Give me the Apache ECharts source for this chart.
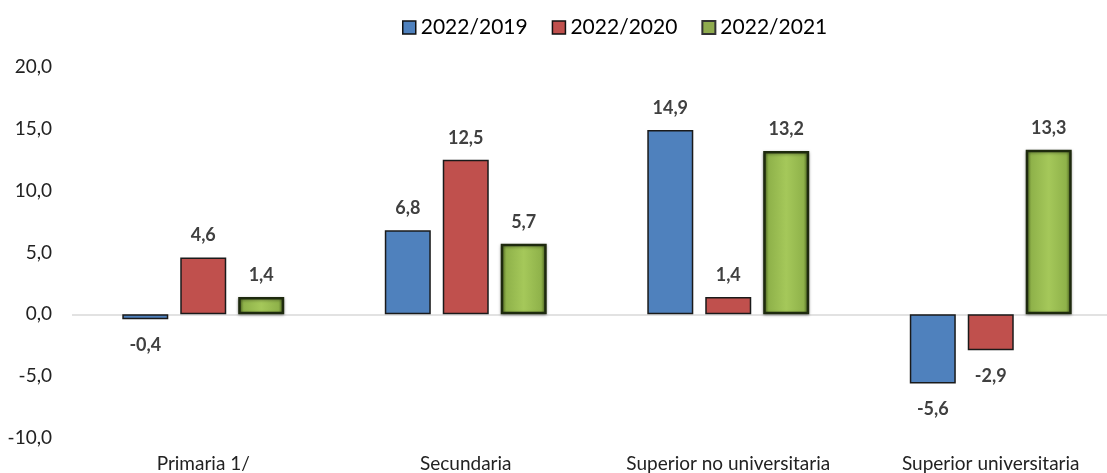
<!DOCTYPE html>
<html><head><meta charset="utf-8">
<script src="https://cdn.jsdelivr.net/npm/echarts@6/dist/echarts.min.js"></script>
<style>html,body{margin:0;padding:0;background:#fff;overflow:hidden;width:1107px;height:473px}#c{width:1122px;height:473px}</style>
</head><body><div id="c"></div>
<script>
const categories = ['Primaria 1/', 'Secundaria', 'Superior no universitaria', 'Superior universitaria'];
const seriesNames = ['2022/2019', '2022/2020', '2022/2021'];
const v2019 = [-0.4, 6.8, 14.9, -5.6];
const v2020 = [4.6, 12.5, 1.4, -2.9];
const v2021 = [1.4, 5.7, 13.2, 13.3];

const FONT = 'Lato';
const fmt = v => Number(v).toFixed(1).replace('.', ',');
const greenGrad = new echarts.graphic.LinearGradient(0, 0, 1, 0, [
  {offset: 0, color: '#4f6a1f'}, {offset: 0.12, color: '#8fb24a'},
  {offset: 0.5, color: '#a5c85a'}, {offset: 0.88, color: '#8fb24a'}, {offset: 1, color: '#4f6a1f'}
]);
function mk(name, vals, color, extra) {
  return Object.assign({
    name, type: 'bar', barWidth: 46, barGap: '26%',
    itemStyle: {color, borderColor: '#1a1a1a', borderWidth: 1.5},
    data: vals.map(v => ({value: v, label: v < 0 ? {position: 'bottom', distance: 17} : {position: 'top', distance: 13}})),
    label: {show: true, formatter: p => fmt(p.value), color: '#404040',
      fontFamily: FONT, fontWeight: 'bold', fontSize: 18}
  }, extra || {});
}
const chart = echarts.init(document.getElementById('c'));
chart.setOption({
  animation: false,
  textStyle: {fontFamily: FONT},
  legend: {
    top: 12, left: 397, itemWidth: 13, itemHeight: 13, itemGap: 24, itemTextGap: 6,
    textStyle: {fontFamily: FONT, fontSize: 21, color: '#000'},
    data: [
      {name: seriesNames[0], icon: 'rect', itemStyle: {color: '#4f81bd', borderColor: '#111', borderWidth: 1.5}},
      {name: seriesNames[1], icon: 'rect', itemStyle: {color: '#c0504d', borderColor: '#111', borderWidth: 1.5}},
      {name: seriesNames[2], icon: 'rect', itemStyle: {color: '#8fab4e', borderColor: '#333', borderWidth: 2}}
    ]
  },
  grid: {left: 72, top: 67, right: 0, bottom: 35, containLabel: false},
  xAxis: {
    type: 'category', data: categories,
    axisLine: {show: false, onZero: false}, axisTick: {show: false},
    axisLabel: {interval: 0, margin: 16, fontFamily: FONT, fontSize: 19, color: '#222'}
  },
  yAxis: {
    type: 'value', min: -10, max: 20, interval: 5,
    splitLine: {show: false}, axisLine: {show: false}, axisTick: {show: false},
    axisLabel: {margin: 20, formatter: v => fmt(v), fontFamily: FONT, fontSize: 19, color: '#222'}
  },
  series: [
    mk(seriesNames[0], v2019, '#4f81bd', {
      markLine: {silent: true, symbol: 'none', label: {show: false},
        lineStyle: {color: '#d9d9d9', type: 'solid', width: 1.5}, data: [{yAxis: 0}], z: 1}
    }),
    mk(seriesNames[1], v2020, '#c0504d'),
    mk(seriesNames[2], v2021, greenGrad, {
      itemStyle: {color: greenGrad, borderColor: '#1e2a0e', borderWidth: 2.5,
        shadowColor: 'rgba(0,0,0,0.35)', shadowBlur: 3, shadowOffsetY: 1}
    })
  ]
});
</script></body></html>
